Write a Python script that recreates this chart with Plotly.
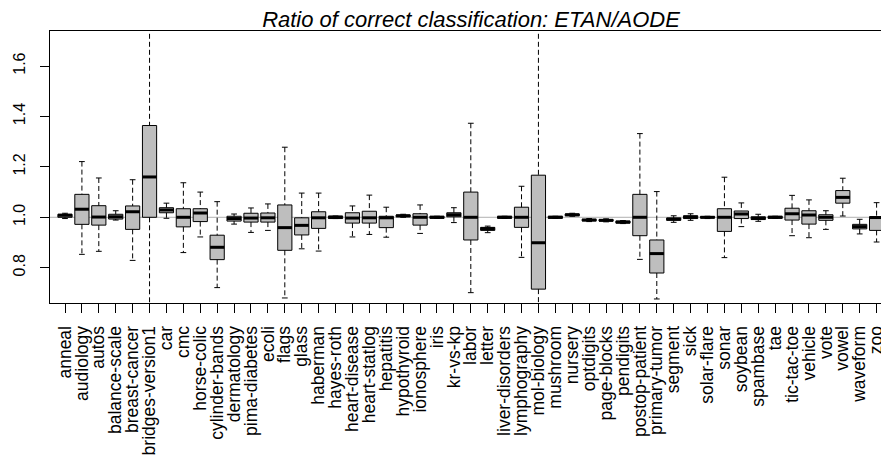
import plotly.graph_objects as go

categories = ["anneal", "audiology", "autos", "balance-scale", "breast-cancer", "bridges-version1",
              "car", "cmc", "horse-colic", "cylinder-bands", "dermatology", "pima-diabetes", "ecoli",
              "flags", "glass", "haberman", "hayes-roth", "heart-disease", "heart-statlog", "hepatitis",
              "hypothyroid", "ionosphere", "iris", "kr-vs-kp", "labor", "letter", "liver-disorders",
              "lymphography", "mol-biology", "mushroom", "nursery", "optdigits", "page-blocks",
              "pendigits", "postop-patient", "primary-tumor", "segment", "sick", "solar-flare", "sonar",
              "soybean", "spambase", "tae", "tic-tac-toe", "vehicle", "vote", "vowel", "waveform", "zoo"]

lower_whisker = [0.995, 0.853, 0.865, 0.989, 0.829, 0.50, 0.996, 0.860, 0.922, 0.721, 0.973, 0.940, 0.948,
                 0.680, 0.875, 0.866, 0.995, 0.922, 0.932, 0.921, 1.000, 0.936, 0.996, 0.979, 0.701, 0.939,
                 0.996, 0.841, 0.50, 0.996, 1.004, 0.983, 0.982, 0.975, 0.833, 0.676, 0.980, 0.988, 0.995,
                 0.840, 0.963, 0.984, 0.996, 0.927, 0.919, 0.952, 1.005, 0.934, 0.902]
q1 = [1.000, 0.972, 0.969, 0.993, 0.952, 1.000, 1.018, 0.962, 0.983, 0.832, 0.985, 0.981, 0.981,
      0.869, 0.930, 0.956, 0.995, 0.977, 0.977, 0.959, 1.002, 0.969, 0.996, 1.002, 0.910, 0.948,
      0.996, 0.960, 0.715, 0.996, 1.006, 0.986, 0.985, 0.977, 0.927, 0.779, 0.988, 0.995, 0.997,
      0.944, 0.995, 0.991, 0.996, 0.989, 0.973, 0.988, 1.056, 0.954, 0.948]
median = [1.008, 1.032, 1.001, 1.002, 1.022, 1.160, 1.029, 1.000, 1.017, 0.881, 0.995, 0.997, 0.998,
          0.959, 0.968, 0.998, 1.000, 0.997, 0.998, 0.998, 1.006, 1.000, 1.000, 1.010, 1.000, 0.955,
          1.000, 1.000, 0.899, 1.000, 1.010, 0.989, 0.988, 0.981, 1.000, 0.856, 0.993, 1.001, 1.000,
          1.000, 1.013, 0.996, 1.000, 1.014, 1.009, 1.000, 1.079, 0.963, 0.999]
q3 = [1.012, 1.091, 1.046, 1.012, 1.045, 1.364, 1.038, 1.034, 1.034, 0.929, 1.004, 1.016, 1.017,
      1.049, 0.998, 1.022, 1.005, 1.018, 1.024, 1.004, 1.009, 1.014, 1.004, 1.018, 1.100, 0.960,
      1.004, 1.040, 1.167, 1.004, 1.013, 0.992, 0.991, 0.985, 1.091, 0.910, 0.997, 1.006, 1.003,
      1.034, 1.025, 1.002, 1.004, 1.036, 1.026, 1.010, 1.106, 0.972, 1.002]
upper_whisker = [1.016, 1.221, 1.156, 1.026, 1.149, 1.95, 1.056, 1.137, 1.100, 1.062, 1.013, 1.037, 1.053,
                 1.278, 1.096, 1.096, 1.005, 1.045, 1.088, 1.040, 1.012, 1.049, 1.004, 1.038, 1.373, 0.965,
                 1.004, 1.123, 1.95, 1.004, 1.016, 0.995, 0.994, 0.987, 1.332, 1.102, 1.006, 1.014, 1.004,
                 1.159, 1.057, 1.012, 1.004, 1.087, 1.069, 1.026, 1.155, 0.992, 1.058]

y_ticks = [0.8, 1.0, 1.2, 1.4, 1.6]
y_tick_labels = ["0.8", "1.0", "1.2", "1.4", "1.6"]
reference_value = 1.0
title_text = "Ratio of correct classification: ETAN/AODE"

FONT = "Liberation Sans, Arial, Helvetica, sans-serif"
idx = list(range(1, len(categories) + 1))
BOX_W = 0.84
STAPLE_HW = 0.17
MED_HW = BOX_W / 2

fig = go.Figure()

# whiskers (dashed)
wx, wy = [], []
for i, lw, a, b, uw in zip(idx, lower_whisker, q1, q3, upper_whisker):
    wx += [i, i, None, i, i, None]
    wy += [uw, b, None, a, lw, None]
fig.add_trace(go.Scatter(x=wx, y=wy, mode="lines",
                         line=dict(color="black", width=1, dash="5px,3px"),
                         hoverinfo="skip", showlegend=False))
# staples
sx, sy = [], []
for i, lw, uw in zip(idx, lower_whisker, upper_whisker):
    sx += [i - STAPLE_HW, i + STAPLE_HW, None, i - STAPLE_HW, i + STAPLE_HW, None]
    sy += [uw, uw, None, lw, lw, None]
fig.add_trace(go.Scatter(x=sx, y=sy, mode="lines", line=dict(color="black", width=1),
                         hoverinfo="skip", showlegend=False))
# boxes
fig.add_trace(go.Bar(x=idx, base=q1, y=[b - a for a, b in zip(q1, q3)], width=BOX_W,
                     marker=dict(color="#bebebe", line=dict(color="black", width=1)),
                     showlegend=False, hoverinfo="skip"))
# medians
mx, my = [], []
for i, m in zip(idx, median):
    mx += [i - MED_HW, i + MED_HW, None]
    my += [m, m, None]
fig.add_trace(go.Scatter(x=mx, y=my, mode="lines", line=dict(color="black", width=3),
                         hoverinfo="skip", showlegend=False))

fig.add_shape(type="line", xref="paper", x0=0, x1=1, yref="y", y0=reference_value, y1=reference_value,
              line=dict(color="#b0b0b0", width=1), layer="below")

fig.update_layout(
    width=881, height=459,
    margin=dict(l=50, r=0, t=31, b=156, autoexpand=False),
    paper_bgcolor="white", plot_bgcolor="white",
    font=dict(family=FONT, color="black"),
    title=dict(text=title_text, xref="container", x=471 / 881, xanchor="center",
               yref="container", y=1 - 19 / 459, yanchor="middle", automargin=False,
               font=dict(family=FONT, size=22, style="italic", color="black")),
    bargap=0,
)
fig.update_xaxes(range=[0.113, 49.26], tickmode="array", tickvals=idx, ticktext=categories,
                 tickangle=-90, ticks="outside", ticklen=9, tickcolor="black",
                 showline=True, linecolor="black", linewidth=1, mirror=True, automargin=False,
                 showgrid=False, zeroline=False, tickfont=dict(size=17.5, family=FONT),
                 ticklabelstandoff=6, ticklabeloverflow="allow")
fig.update_yaxes(range=[0.660, 1.739], tickmode="array", tickvals=y_ticks, ticktext=y_tick_labels,
                 tickangle=-90, ticks="outside", ticklen=9, tickcolor="black", automargin=False,
                 showline=True, linecolor="black", linewidth=1, mirror=False,
                 showgrid=False, zeroline=False, tickfont=dict(size=16, family=FONT),
                 ticklabelstandoff=9)

fig.write_html("out.html", config={"displayModeBar": False, "staticPlot": True},
               post_script="document.body.style.margin='0';document.body.style.padding='0';"
                           "document.body.style.overflow='hidden';")
